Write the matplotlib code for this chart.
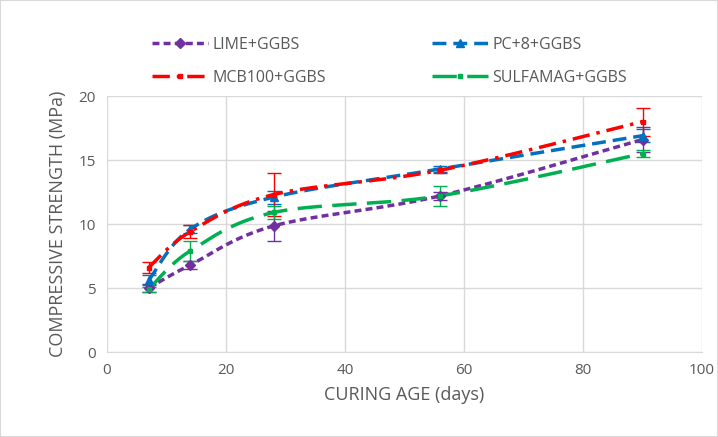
import numpy as np
import matplotlib.pyplot as plt
from matplotlib.patches import Rectangle

plt.rcParams['font.family'] = ['Open Sans', 'DejaVu Sans']

# curing ages (days) and mean compressive strengths (MPa)
age = [7, 14, 28, 56, 90]
lime = [5.0, 6.8, 9.85, 12.2, 16.6]
pc8 = [5.6, 9.6, 12.1, 14.3, 16.9]
mcb = [6.6, 9.4, 12.3, 14.2, 18.0]
sulf = [4.9, 7.9, 10.9, 12.2, 15.5]

# error bar half-widths
lime_err = [0.3, 0.3, 1.2, 0.3, 1.0]
pc8_err = [0.4, 0.3, 0.5, 0.2, 0.5]
mcb_err = [0.4, 0.5, 1.7, 0.2, 1.1]
sulf_err = [0.2, 0.8, 0.5, 0.8, 0.3]

labels = ['LIME+GGBS', 'PC+8+GGBS', 'MCB100+GGBS', 'SULFAMAG+GGBS']
colors = ['#7030A0', '#0070C0', '#FF0000', '#00B050']


def smooth(x, y, n=40):
    # cardinal spline through the points, like a spreadsheet "smoothed line"
    x = np.asarray(x, float)
    y = np.asarray(y, float)
    px = np.concatenate([[x[0]], x, [x[-1]]])
    py = np.concatenate([[y[0]], y, [y[-1]]])
    t = np.linspace(0, 1, n)
    xs, ys = [], []
    for i in range(1, len(px) - 2):
        p0, p1, p2, p3 = [np.array([px[j], py[j]]) for j in (i - 1, i, i + 1, i + 2)]
        c1 = p1 + (p2 - p0) / 6
        c2 = p2 - (p3 - p1) / 6
        b = ((1 - t) ** 3)[:, None] * p1 + (3 * (1 - t) ** 2 * t)[:, None] * c1 \
            + (3 * (1 - t) * t ** 2)[:, None] * c2 + (t ** 3)[:, None] * p2
        xs.append(b[:, 0])
        ys.append(b[:, 1])
    return np.concatenate(xs), np.concatenate(ys)


fig = plt.figure(figsize=(7.18, 4.37), dpi=100)
ax = fig.add_axes([107 / 718, 1 - 352 / 437, 595 / 718, 256 / 437])

series = [
    (lime, lime_err, (0, (2, 1.2)), 'D', 5),
    (pc8, pc8_err, (0, (4, 2)), '^', 6),
    (mcb, mcb_err, (0, (5, 2, 1, 2)), 's', 3.5),
    (sulf, sulf_err, (0, (7, 3)), 's', 3),
]

handles = []
for (vals, err, ls, mk, ms), lab, c in zip(series, labels, colors):
    xs, ys = smooth(age, vals)
    ax.plot(xs, ys, color=c, lw=2.5, ls=ls, zorder=3)
    ax.errorbar(age, vals, yerr=err, fmt='none', ecolor=c, elinewidth=1,
                capsize=5, capthick=1, zorder=2)
    ax.plot(age, vals, ls='none', marker=mk, ms=ms, color=c, zorder=4)
    h, = ax.plot([], [], color=c, lw=2.5, ls=ls, marker=mk, ms=ms, label=lab)
    handles.append(h)

ax.set_xlim(0, 100)
ax.set_ylim(0, 20)
ax.set_xticks(range(0, 101, 20))
ax.set_yticks(range(0, 21, 5))
ax.grid(True, color='#d9d9d9', lw=1)
ax.set_axisbelow(True)
for s in ['top', 'right', 'left']:
    ax.spines[s].set_visible(False)
ax.spines['bottom'].set_color('#d9d9d9')
ax.tick_params(length=0, labelsize=11, labelcolor='#595959', pad=8)
ax.set_xlabel('CURING AGE (days)', fontsize=13, color='#595959', labelpad=6)
ax.set_ylabel('COMPRESSIVE STRENGTH (MPa)', fontsize=13, color='#595959', labelpad=8)

# row-wise order: LIME, PC+8 / MCB100, SULFAMAG
order = [0, 2, 1, 3]
leg = fig.legend([handles[i] for i in order], [labels[i] for i in order],
                 loc='upper left', bbox_to_anchor=(152 / 718, 1 - 37 / 437), ncol=2,
                 frameon=False, fontsize=11.5, handlelength=3.5, labelspacing=1.05,
                 handletextpad=0.3, columnspacing=6.6, borderpad=0, borderaxespad=0)
for t in leg.get_texts():
    t.set_color('#595959')

fig.patches.append(Rectangle((0, 0), 1, 1, transform=fig.transFigure, fill=False,
                             edgecolor='#d9d9d9', lw=1.5))

fig.savefig('out.png', dpi=100)
